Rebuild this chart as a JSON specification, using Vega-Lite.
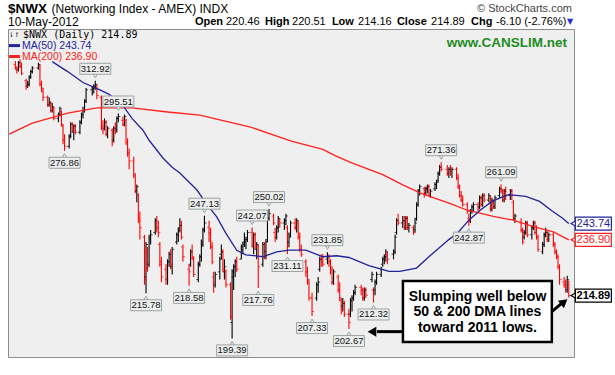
{
"$schema":"https://vega.github.io/schema/vega-lite/v6.json",
"width":566,"height":328,
"autosize":"none",
"padding":{"left":8,"top":29,"right":41,"bottom":18},
"background":"white",
"config":{"view":{"fill":"#efefef","stroke":"#8c8c8c","strokeWidth":1},"font":"Liberation Sans"},
"datasets":{
"px":[
{"d":"2011-05-16","o":322,"h":324,"l":319,"c":320},
{"d":"2011-05-17","o":320,"h":321,"l":317,"c":319},
{"d":"2011-05-18","o":319,"h":324,"l":318,"c":323},
{"d":"2011-05-19","o":323,"h":325,"l":320,"c":321},
{"d":"2011-05-20","o":321,"h":323,"l":316,"c":317},
{"d":"2011-05-23","o":313,"h":314,"l":308,"c":310},
{"d":"2011-05-24","o":310,"h":313,"l":309,"c":311},
{"d":"2011-05-25","o":311,"h":316,"l":310,"c":315},
{"d":"2011-05-26","o":315,"h":319,"l":314,"c":318},
{"d":"2011-05-27","o":318,"h":321,"l":317,"c":320},
{"d":"2011-05-31","o":320,"h":323,"l":319,"c":322},
{"d":"2011-06-01","o":321,"h":322,"l":310,"c":311},
{"d":"2011-06-02","o":311,"h":313,"l":307,"c":309},
{"d":"2011-06-03","o":307,"h":309,"l":302,"c":304},
{"d":"2011-06-06","o":304,"h":305,"l":299,"c":300},
{"d":"2011-06-07","o":300,"h":304,"l":299,"c":301},
{"d":"2011-06-08","o":301,"h":302,"l":296,"c":297},
{"d":"2011-06-09","o":297,"h":301,"l":296,"c":299},
{"d":"2011-06-10","o":298,"h":299,"l":292,"c":293},
{"d":"2011-06-13","o":293,"h":296,"l":291,"c":295},
{"d":"2011-06-14","o":295,"h":299,"l":294,"c":298},
{"d":"2011-06-15","o":297,"h":297,"l":289,"c":290},
{"d":"2011-06-16","o":289,"h":290,"l":280,"c":282},
{"d":"2011-06-17","o":282,"h":285,"l":276.86,"c":279},
{"d":"2011-06-20","o":279,"h":285,"l":278,"c":284},
{"d":"2011-06-21","o":284,"h":291,"l":283,"c":290},
{"d":"2011-06-22","o":290,"h":291,"l":286,"c":287},
{"d":"2011-06-23","o":286,"h":290,"l":282,"c":289},
{"d":"2011-06-24","o":289,"h":290,"l":285,"c":286},
{"d":"2011-06-27","o":286,"h":292,"l":285,"c":291},
{"d":"2011-06-28","o":291,"h":296,"l":290,"c":295},
{"d":"2011-06-29","o":295,"h":299,"l":293,"c":297},
{"d":"2011-06-30","o":297,"h":303,"l":296,"c":302},
{"d":"2011-07-01","o":302,"h":309,"l":301,"c":308},
{"d":"2011-07-05","o":308,"h":310,"l":305,"c":309},
{"d":"2011-07-06","o":309,"h":311,"l":306,"c":310},
{"d":"2011-07-07","o":310,"h":312.92,"l":308,"c":311},
{"d":"2011-07-08","o":310,"h":311,"l":303,"c":305},
{"d":"2011-07-11","o":304,"h":305,"l":287,"c":289},
{"d":"2011-07-12","o":289,"h":292,"l":285,"c":287},
{"d":"2011-07-13","o":288,"h":293,"l":287,"c":291},
{"d":"2011-07-14","o":291,"h":292,"l":284,"c":285},
{"d":"2011-07-15","o":285,"h":289,"l":283,"c":288},
{"d":"2011-07-18","o":287,"h":288,"l":279,"c":281},
{"d":"2011-07-19","o":282,"h":289,"l":281,"c":288},
{"d":"2011-07-20","o":288,"h":291,"l":285,"c":286},
{"d":"2011-07-21","o":287,"h":294,"l":286,"c":293},
{"d":"2011-07-22","o":293,"h":295.51,"l":291,"c":294},
{"d":"2011-07-25","o":292,"h":294,"l":289,"c":290},
{"d":"2011-07-26","o":290,"h":295,"l":289,"c":294},
{"d":"2011-07-27","o":292,"h":293,"l":280,"c":281},
{"d":"2011-07-28","o":280,"h":283,"l":274,"c":276},
{"d":"2011-07-29","o":275,"h":278,"l":268,"c":272},
{"d":"2011-08-01","o":272,"h":274,"l":264,"c":266},
{"d":"2011-08-02","o":265,"h":266,"l":257,"c":258},
{"d":"2011-08-03","o":258,"h":261,"l":253,"c":260},
{"d":"2011-08-04","o":256,"h":257,"l":244,"c":245},
{"d":"2011-08-05","o":246,"h":249,"l":237,"c":242},
{"d":"2011-08-08","o":238,"h":239,"l":219,"c":221},
{"d":"2011-08-09","o":222,"h":236,"l":215.78,"c":235},
{"d":"2011-08-10","o":232,"h":234,"l":224,"c":226},
{"d":"2011-08-11","o":227,"h":239,"l":226,"c":237},
{"d":"2011-08-12","o":238,"h":241,"l":235,"c":239},
{"d":"2011-08-15","o":240,"h":246,"l":239,"c":245},
{"d":"2011-08-16","o":244,"h":247,"l":240,"c":242},
{"d":"2011-08-17","o":242,"h":245,"l":238,"c":240},
{"d":"2011-08-18","o":235,"h":236,"l":226,"c":228},
{"d":"2011-08-19","o":227,"h":230,"l":220,"c":222},
{"d":"2011-08-22","o":225,"h":227,"l":219,"c":221},
{"d":"2011-08-23","o":221,"h":229,"l":219,"c":228},
{"d":"2011-08-24","o":228,"h":232,"l":226,"c":231},
{"d":"2011-08-25","o":231,"h":233,"l":225,"c":227},
{"d":"2011-08-26","o":226,"h":234,"l":223,"c":233},
{"d":"2011-08-29","o":236,"h":240,"l":235,"c":239},
{"d":"2011-08-30","o":239,"h":242,"l":236,"c":241},
{"d":"2011-08-31","o":242,"h":246,"l":240,"c":243},
{"d":"2011-09-01","o":243,"h":245,"l":237,"c":238},
{"d":"2011-09-02","o":234,"h":235,"l":228,"c":230},
{"d":"2011-09-06","o":225,"h":227,"l":218.58,"c":224},
{"d":"2011-09-07","o":227,"h":233,"l":226,"c":232},
{"d":"2011-09-08","o":232,"h":235,"l":229,"c":230},
{"d":"2011-09-09","o":229,"h":230,"l":222,"c":223},
{"d":"2011-09-12","o":221,"h":228,"l":220,"c":227},
{"d":"2011-09-13","o":227,"h":231,"l":226,"c":230},
{"d":"2011-09-14","o":230,"h":237,"l":228,"c":235},
{"d":"2011-09-15","o":236,"h":242,"l":234,"c":241},
{"d":"2011-09-16","o":241,"h":247.13,"l":240,"c":244},
{"d":"2011-09-19","o":242,"h":245,"l":236,"c":239},
{"d":"2011-09-20","o":240,"h":242,"l":233,"c":234},
{"d":"2011-09-21","o":234,"h":236,"l":227,"c":228},
{"d":"2011-09-22","o":222,"h":224,"l":216,"c":220},
{"d":"2011-09-23","o":219,"h":224,"l":218,"c":223},
{"d":"2011-09-26","o":224,"h":230,"l":221,"c":229},
{"d":"2011-09-27","o":231,"h":235,"l":229,"c":232},
{"d":"2011-09-28","o":232,"h":233,"l":224,"c":225},
{"d":"2011-09-29","o":224,"h":229,"l":221,"c":226},
{"d":"2011-09-30","o":224,"h":225,"l":218,"c":219},
{"d":"2011-10-03","o":219,"h":220,"l":206,"c":207},
{"d":"2011-10-04","o":205,"h":225,"l":199.39,"c":224},
{"d":"2011-10-05","o":222,"h":227,"l":217,"c":226},
{"d":"2011-10-06","o":226,"h":229,"l":222,"c":228},
{"d":"2011-10-07","o":228,"h":230,"l":224,"c":225},
{"d":"2011-10-10","o":229,"h":235,"l":229,"c":234},
{"d":"2011-10-11","o":233,"h":236,"l":231,"c":235},
{"d":"2011-10-12","o":236,"h":240,"l":234,"c":237},
{"d":"2011-10-13","o":236,"h":238,"l":233,"c":237},
{"d":"2011-10-14","o":238,"h":241,"l":236,"c":240},
{"d":"2011-10-17","o":240,"h":242.07,"l":234,"c":235},
{"d":"2011-10-18","o":234,"h":240,"l":231,"c":239},
{"d":"2011-10-19","o":239,"h":240,"l":233,"c":234},
{"d":"2011-10-20","o":233,"h":236,"l":229,"c":235},
{"d":"2011-10-21","o":234,"h":235,"l":217.76,"c":226},
{"d":"2011-10-24","o":227,"h":236,"l":226,"c":235},
{"d":"2011-10-25","o":235,"h":236,"l":229,"c":230},
{"d":"2011-10-26","o":232,"h":237,"l":229,"c":236},
{"d":"2011-10-27","o":237,"h":247,"l":236,"c":246},
{"d":"2011-10-28","o":246,"h":250.02,"l":245,"c":248},
{"d":"2011-10-31","o":247,"h":248,"l":243,"c":244},
{"d":"2011-11-01","o":240,"h":242,"l":236,"c":238},
{"d":"2011-11-02","o":238,"h":243,"l":237,"c":242},
{"d":"2011-11-03","o":242,"h":247,"l":240,"c":246},
{"d":"2011-11-04","o":245,"h":246,"l":242,"c":244},
{"d":"2011-11-07","o":244,"h":246,"l":241,"c":245},
{"d":"2011-11-08","o":245,"h":248,"l":243,"c":247},
{"d":"2011-11-09","o":242,"h":243,"l":231.11,"c":234},
{"d":"2011-11-10","o":236,"h":240,"l":234,"c":238},
{"d":"2011-11-11","o":239,"h":245,"l":238,"c":244},
{"d":"2011-11-14","o":244,"h":246,"l":241,"c":242},
{"d":"2011-11-15","o":242,"h":246,"l":240,"c":245},
{"d":"2011-11-16","o":244,"h":245,"l":237,"c":238},
{"d":"2011-11-17","o":238,"h":240,"l":232,"c":233},
{"d":"2011-11-18","o":233,"h":235,"l":230,"c":231},
{"d":"2011-11-21","o":228,"h":229,"l":222,"c":224},
{"d":"2011-11-22","o":224,"h":226,"l":219,"c":221},
{"d":"2011-11-23","o":220,"h":221,"l":213,"c":214},
{"d":"2011-11-25","o":214,"h":216,"l":207.33,"c":209},
{"d":"2011-11-28","o":214,"h":220,"l":213,"c":219},
{"d":"2011-11-29","o":219,"h":222,"l":216,"c":220},
{"d":"2011-11-30","o":225,"h":230,"l":224,"c":229},
{"d":"2011-12-01","o":229,"h":231,"l":226,"c":228},
{"d":"2011-12-02","o":229,"h":231,"l":226,"c":227},
{"d":"2011-12-05","o":229,"h":231.85,"l":227,"c":230},
{"d":"2011-12-06","o":230,"h":231,"l":226,"c":228},
{"d":"2011-12-07","o":228,"h":229,"l":223,"c":226},
{"d":"2011-12-08","o":225,"h":226,"l":219,"c":220},
{"d":"2011-12-09","o":220,"h":225,"l":219,"c":224},
{"d":"2011-12-12","o":222,"h":223,"l":216,"c":217},
{"d":"2011-12-13","o":217,"h":220,"l":213,"c":214},
{"d":"2011-12-14","o":213,"h":214,"l":208,"c":210},
{"d":"2011-12-15","o":211,"h":214,"l":209,"c":212},
{"d":"2011-12-16","o":212,"h":213,"l":207,"c":208},
{"d":"2011-12-19","o":208,"h":210,"l":202.67,"c":205},
{"d":"2011-12-20","o":208,"h":214,"l":207,"c":213},
{"d":"2011-12-21","o":213,"h":215,"l":209,"c":214},
{"d":"2011-12-22","o":214,"h":217,"l":213,"c":216},
{"d":"2011-12-23","o":216,"h":219,"l":215,"c":218},
{"d":"2011-12-27","o":218,"h":219,"l":215,"c":217},
{"d":"2011-12-28","o":217,"h":218,"l":213,"c":214},
{"d":"2011-12-29","o":214,"h":218,"l":213,"c":217},
{"d":"2011-12-30","o":217,"h":218,"l":214,"c":215},
{"d":"2012-01-03","o":221,"h":224,"l":220,"c":223},
{"d":"2012-01-04","o":217,"h":218,"l":212.32,"c":216},
{"d":"2012-01-05","o":217,"h":221,"l":215,"c":220},
{"d":"2012-01-06","o":220,"h":224,"l":219,"c":223},
{"d":"2012-01-09","o":223,"h":226,"l":222,"c":225},
{"d":"2012-01-10","o":227,"h":230,"l":226,"c":229},
{"d":"2012-01-11","o":229,"h":231,"l":227,"c":230},
{"d":"2012-01-12","o":230,"h":233,"l":228,"c":232},
{"d":"2012-01-13","o":231,"h":232,"l":227,"c":229},
{"d":"2012-01-17","o":231,"h":233,"l":229,"c":232},
{"d":"2012-01-18","o":232,"h":239,"l":231,"c":238},
{"d":"2012-01-19","o":240,"h":246,"l":239,"c":245},
{"d":"2012-01-20","o":245,"h":248,"l":243,"c":244},
{"d":"2012-01-23","o":244,"h":247,"l":242,"c":245},
{"d":"2012-01-24","o":245,"h":247,"l":241,"c":242},
{"d":"2012-01-25","o":242,"h":247,"l":241,"c":246},
{"d":"2012-01-26","o":246,"h":247,"l":241,"c":242},
{"d":"2012-01-27","o":242,"h":244,"l":240,"c":243},
{"d":"2012-01-30","o":242,"h":243,"l":239,"c":240},
{"d":"2012-01-31","o":241,"h":246,"l":240,"c":244},
{"d":"2012-02-01","o":246,"h":253,"l":245,"c":252},
{"d":"2012-02-02","o":252,"h":259,"l":251,"c":258},
{"d":"2012-02-03","o":258,"h":261,"l":256,"c":260},
{"d":"2012-02-06","o":259,"h":260,"l":255,"c":257},
{"d":"2012-02-07","o":257,"h":260,"l":256,"c":259},
{"d":"2012-02-08","o":259,"h":261,"l":257,"c":260},
{"d":"2012-02-09","o":260,"h":261,"l":256,"c":257},
{"d":"2012-02-10","o":256,"h":259,"l":255,"c":258},
{"d":"2012-02-13","o":259,"h":262,"l":258,"c":261},
{"d":"2012-02-14","o":261,"h":263,"l":259,"c":262},
{"d":"2012-02-15","o":263,"h":267,"l":262,"c":266},
{"d":"2012-02-16","o":266,"h":270,"l":265,"c":269},
{"d":"2012-02-17","o":269,"h":271.36,"l":267,"c":268},
{"d":"2012-02-21","o":268,"h":270,"l":265,"c":266},
{"d":"2012-02-22","o":266,"h":269,"l":264,"c":268},
{"d":"2012-02-23","o":268,"h":270,"l":265,"c":267},
{"d":"2012-02-24","o":267,"h":269,"l":264,"c":268},
{"d":"2012-02-27","o":268,"h":269,"l":263,"c":264},
{"d":"2012-02-28","o":264,"h":266,"l":259,"c":260},
{"d":"2012-02-29","o":260,"h":261,"l":255,"c":256},
{"d":"2012-03-01","o":256,"h":258,"l":253,"c":254},
{"d":"2012-03-02","o":254,"h":256,"l":251,"c":252},
{"d":"2012-03-05","o":252,"h":253,"l":248,"c":249},
{"d":"2012-03-06","o":246,"h":248,"l":242.87,"c":245},
{"d":"2012-03-07","o":245,"h":250,"l":244,"c":249},
{"d":"2012-03-08","o":249,"h":252,"l":248,"c":251},
{"d":"2012-03-09","o":251,"h":253,"l":249,"c":252},
{"d":"2012-03-12","o":252,"h":253,"l":249,"c":250},
{"d":"2012-03-13","o":251,"h":256,"l":250,"c":255},
{"d":"2012-03-14","o":255,"h":256,"l":251,"c":252},
{"d":"2012-03-15","o":252,"h":257,"l":251,"c":256},
{"d":"2012-03-16","o":256,"h":257,"l":253,"c":254},
{"d":"2012-03-19","o":254,"h":257,"l":253,"c":256},
{"d":"2012-03-20","o":255,"h":256,"l":249,"c":250},
{"d":"2012-03-21","o":250,"h":255,"l":249,"c":254},
{"d":"2012-03-22","o":253,"h":254,"l":250,"c":251},
{"d":"2012-03-23","o":251,"h":256,"l":250,"c":255},
{"d":"2012-03-26","o":256,"h":260,"l":255,"c":259},
{"d":"2012-03-27","o":259,"h":261.09,"l":257,"c":258},
{"d":"2012-03-28","o":258,"h":259,"l":253,"c":254},
{"d":"2012-03-29","o":254,"h":259,"l":253,"c":258},
{"d":"2012-03-30","o":258,"h":260,"l":254,"c":256},
{"d":"2012-04-02","o":256,"h":259,"l":254,"c":258},
{"d":"2012-04-03","o":258,"h":259,"l":254,"c":256},
{"d":"2012-04-04","o":253,"h":254,"l":245,"c":246},
{"d":"2012-04-05","o":246,"h":248,"l":244,"c":247},
{"d":"2012-04-09","o":244,"h":246,"l":240,"c":241},
{"d":"2012-04-10","o":241,"h":242,"l":235,"c":236},
{"d":"2012-04-11","o":238,"h":241,"l":237,"c":240},
{"d":"2012-04-12","o":240,"h":245,"l":239,"c":244},
{"d":"2012-04-13","o":244,"h":245,"l":238,"c":239},
{"d":"2012-04-16","o":239,"h":243,"l":237,"c":242},
{"d":"2012-04-17","o":242,"h":245,"l":241,"c":244},
{"d":"2012-04-18","o":244,"h":245,"l":239,"c":240},
{"d":"2012-04-19","o":240,"h":243,"l":237,"c":238},
{"d":"2012-04-20","o":238,"h":239,"l":232,"c":233},
{"d":"2012-04-23","o":232,"h":236,"l":231,"c":235},
{"d":"2012-04-24","o":235,"h":240,"l":234,"c":239},
{"d":"2012-04-25","o":239,"h":242,"l":238,"c":240},
{"d":"2012-04-26","o":240,"h":241,"l":236,"c":237},
{"d":"2012-04-27","o":237,"h":240,"l":236,"c":239},
{"d":"2012-04-30","o":239,"h":240,"l":234,"c":235},
{"d":"2012-05-01","o":235,"h":236,"l":231,"c":232},
{"d":"2012-05-02","o":232,"h":233,"l":229,"c":230},
{"d":"2012-05-03","o":230,"h":231,"l":225,"c":226},
{"d":"2012-05-04","o":226,"h":227,"l":219,"c":221},
{"d":"2012-05-07","o":220,"h":222,"l":218,"c":219},
{"d":"2012-05-08","o":219,"h":221,"l":216,"c":218},
{"d":"2012-05-09","o":217,"h":222.5,"l":216,"c":220.99},
{"d":"2012-05-10","o":220.46,"h":220.51,"l":214.16,"c":214.89}
],
"ma50":[
{"d":"2011-06-09","v":323.6},{"d":"2011-06-19","v":318},{"d":"2011-06-29","v":312},{"d":"2011-07-10","v":308},
{"d":"2011-07-16","v":305.6},{"d":"2011-07-25","v":299.6},{"d":"2011-07-31","v":292.9},{"d":"2011-08-07","v":287},
{"d":"2011-08-11","v":282},{"d":"2011-08-20","v":273.4},{"d":"2011-08-26","v":269},{"d":"2011-08-31","v":266.3},
{"d":"2011-09-11","v":258.6},{"d":"2011-09-17","v":252.6},{"d":"2011-09-24","v":246.6},{"d":"2011-09-30","v":239.6},
{"d":"2011-10-07","v":232.6},{"d":"2011-10-13","v":230.8},{"d":"2011-10-24","v":230},{"d":"2011-11-02","v":232},
{"d":"2011-11-10","v":232.7},{"d":"2011-11-21","v":232.7},{"d":"2011-12-02","v":230},{"d":"2011-12-11","v":230.4},
{"d":"2011-12-19","v":229.7},{"d":"2012-01-01","v":226.5},{"d":"2012-01-14","v":224.2},{"d":"2012-01-21","v":224.2},
{"d":"2012-02-01","v":225.5},{"d":"2012-02-09","v":230},{"d":"2012-02-22","v":237},{"d":"2012-02-28","v":240},
{"d":"2012-03-06","v":245.2},{"d":"2012-03-13","v":249.3},{"d":"2012-03-21","v":253.4},{"d":"2012-03-28","v":255.4},
{"d":"2012-04-01","v":256.4},{"d":"2012-04-12","v":255.6},{"d":"2012-04-21","v":253.4},{"d":"2012-04-29","v":249.3},
{"d":"2012-05-06","v":246},{"d":"2012-05-10","v":243.74}
],
"ma200":[
{"d":"2011-05-12","v":285},{"d":"2011-05-27","v":290.6},{"d":"2011-06-19","v":295.7},{"d":"2011-07-08","v":298.4},
{"d":"2011-07-31","v":298.4},{"d":"2011-08-23","v":296.3},{"d":"2011-09-13","v":294.7},{"d":"2011-10-16","v":288.6},
{"d":"2011-11-11","v":281.7},{"d":"2011-12-02","v":277.5},{"d":"2011-12-10","v":274.5},{"d":"2011-12-20","v":271.3},
{"d":"2012-01-10","v":265.5},{"d":"2012-01-23","v":260.8},{"d":"2012-02-04","v":257},{"d":"2012-02-23","v":252.4},
{"d":"2012-03-05","v":249.5},{"d":"2012-03-22","v":246.8},{"d":"2012-04-04","v":245.2},{"d":"2012-04-17","v":242.5},
{"d":"2012-04-30","v":240.2},{"d":"2012-05-10","v":236.9}
],
"lbl":[
{"d":"2011-06-17","v":276.86,"k":"low"},{"d":"2011-07-07","v":312.92,"k":"high"},{"d":"2011-07-22","v":295.51,"k":"high"},
{"d":"2011-08-09","v":215.78,"k":"low"},{"d":"2011-09-06","v":218.58,"k":"low"},{"d":"2011-09-16","v":247.13,"k":"high"},
{"d":"2011-10-04","v":199.39,"k":"low"},{"d":"2011-10-17","v":242.07,"k":"high"},{"d":"2011-10-21","v":217.76,"k":"low"},
{"d":"2011-10-28","v":250.02,"k":"high"},{"d":"2011-11-09","v":231.11,"k":"low"},{"d":"2011-11-25","v":207.33,"k":"low"},
{"d":"2011-12-05","v":231.85,"k":"high"},{"d":"2011-12-19","v":202.67,"k":"low"},{"d":"2012-01-04","v":212.32,"k":"low"},
{"d":"2012-02-17","v":271.36,"k":"high"},{"d":"2012-03-06","v":242.87,"k":"low"},{"d":"2012-03-27","v":261.09,"k":"high"}
],
"last":[{"s":"MA50","v":243.74},{"s":"MA200","v":236.90},{"s":"NWX","v":214.89}]
},
"layer":[
{"data":{"name":"px"},"mark":{"type":"rule","strokeWidth":1.1},
 "encoding":{
  "x":{"field":"d","type":"temporal","scale":{"domain":[{"year":2011,"month":5,"date":11,"hours":5,"utc":true},{"year":2012,"month":5,"date":13,"hours":10,"utc":true}],"nice":false},
   "axis":{"values":[{"year":2011,"month":6,"date":1,"utc":true},{"year":2011,"month":7,"date":1,"utc":true},{"year":2011,"month":8,"date":1,"utc":true},{"year":2011,"month":9,"date":1,"utc":true},{"year":2011,"month":10,"date":3,"utc":true},{"year":2011,"month":11,"date":1,"utc":true},{"year":2011,"month":12,"date":1,"utc":true},{"year":2012,"month":1,"date":3,"utc":true},{"year":2012,"month":2,"date":1,"utc":true},{"year":2012,"month":3,"date":1,"utc":true},{"year":2012,"month":4,"date":2,"utc":true},{"year":2012,"month":5,"date":1,"utc":true}],
    "labelExpr":"utcmonth(datum.value) === 0 ? '2012' : utcFormat(datum.value, '%b')",
    "labelFontWeight":{"condition":{"test":"utcmonth(datum.value) === 0","value":"bold"},"value":"normal"},
    "title":null,"grid":true,"gridColor":"#d0d0d0","domain":false,"ticks":false,"labelPadding":4,"labelFontSize":11,"labelColor":"#222","labelFlush":false,"labelOverlap":false}},
  "y":{"field":"l","type":"quantitative","scale":{"type":"log","domain":[193,342.6],"nice":false},
   "axis":{"orient":"right","values":[200,210,220,230,240,250,260,270,280,290,300,310,320,330,340],"format":"d","title":null,"grid":true,"gridColor":"#d0d0d0","domain":false,"ticks":true,"tickSize":3,"tickColor":"#777","labelPadding":1,"labelFontSize":11,"labelColor":"#222","labelFlush":false,"labelOverlap":false}},
  "y2":{"field":"h"},
  "color":{"condition":{"test":"datum.c >= datum.o","value":"#000000"},"value":"#ff0000"}}},
{"data":{"name":"px"},"mark":{"type":"tick","orient":"horizontal","size":2,"thickness":1,"xOffset":-1},
 "encoding":{"x":{"field":"d","type":"temporal","axis":null},"y":{"field":"o","type":"quantitative","axis":null},
  "color":{"condition":{"test":"datum.c >= datum.o","value":"#000000"},"value":"#ff0000"}}},
{"data":{"name":"px"},"mark":{"type":"tick","orient":"horizontal","size":2,"thickness":1,"xOffset":1},
 "encoding":{"x":{"field":"d","type":"temporal","axis":null},"y":{"field":"c","type":"quantitative","axis":null},
  "color":{"condition":{"test":"datum.c >= datum.o","value":"#000000"},"value":"#ff0000"}}},
{"data":{"name":"ma200"},"mark":{"type":"line","color":"#ff2020","strokeWidth":1.3},
 "encoding":{"x":{"field":"d","type":"temporal","axis":null},"y":{"field":"v","type":"quantitative","axis":null}}},
{"data":{"name":"ma50"},"mark":{"type":"line","color":"#23239b","strokeWidth":1.3},
 "encoding":{"x":{"field":"d","type":"temporal","axis":null},"y":{"field":"v","type":"quantitative","axis":null}}},
{"data":{"name":"lbl"},"transform":[{"filter":"datum.k === 'high'"}],"mark":{"type":"point","shape":"triangle-down","size":22,"filled":true,"fill":"#eceeee","stroke":"#9ca3a3","strokeWidth":1,"opacity":1,"yOffset":-5},
 "encoding":{"x":{"field":"d","type":"temporal","axis":null},"y":{"field":"v","type":"quantitative","axis":null}}},
{"data":{"name":"lbl"},"transform":[{"filter":"datum.k === 'low'"}],"mark":{"type":"point","shape":"triangle-up","size":22,"filled":true,"fill":"#eceeee","stroke":"#9ca3a3","strokeWidth":1,"opacity":1,"yOffset":5},
 "encoding":{"x":{"field":"d","type":"temporal","axis":null},"y":{"field":"v","type":"quantitative","axis":null}}},
{"data":{"name":"lbl"},"transform":[{"filter":"datum.k === 'high'"}],"mark":{"type":"rect","width":31,"height":11,"yOffset":-12,"fill":"#eceeee","stroke":"#9ca3a3","strokeWidth":1},
 "encoding":{"x":{"field":"d","type":"temporal","axis":null},"y":{"field":"v","type":"quantitative","axis":null}}},
{"data":{"name":"lbl"},"transform":[{"filter":"datum.k === 'low'"}],"mark":{"type":"rect","width":31,"height":11,"yOffset":12,"fill":"#eceeee","stroke":"#9ca3a3","strokeWidth":1},
 "encoding":{"x":{"field":"d","type":"temporal","axis":null},"y":{"field":"v","type":"quantitative","axis":null}}},
{"data":{"name":"lbl"},"transform":[{"filter":"datum.k === 'high'"}],"mark":{"type":"text","yOffset":-12,"fontSize":9.5,"color":"#111","baseline":"middle","align":"center"},
 "encoding":{"x":{"field":"d","type":"temporal","axis":null},"y":{"field":"v","type":"quantitative","axis":null},"text":{"field":"v","type":"quantitative","format":".2f"}}},
{"data":{"name":"lbl"},"transform":[{"filter":"datum.k === 'low'"}],"mark":{"type":"text","yOffset":12,"fontSize":9.5,"color":"#111","baseline":"middle","align":"center"},
 "encoding":{"x":{"field":"d","type":"temporal","axis":null},"y":{"field":"v","type":"quantitative","axis":null},"text":{"field":"v","type":"quantitative","format":".2f"}}},
{"data":{"name":"last"},"mark":{"type":"point","shape":"triangle-left","size":45,"filled":true,"fill":"white","strokeWidth":1.2,"opacity":1},
 "encoding":{"x":{"datum":{"year":2012,"month":5,"date":13,"hours":10,"utc":true},"type":"temporal","axis":null},"y":{"field":"v","type":"quantitative","axis":null},
  "stroke":{"condition":[{"test":"datum.s === 'MA50'","value":"#23239b"},{"test":"datum.s === 'MA200'","value":"#ff2020"}],"value":"#000000"}}},
{"data":{"name":"last"},"mark":{"type":"rect","width":36,"height":13,"fill":"white","strokeWidth":1.2},
 "encoding":{"x":{"datum":{"year":2012,"month":5,"date":26,"utc":true},"type":"temporal","axis":null},"y":{"field":"v","type":"quantitative","axis":null},
  "stroke":{"condition":[{"test":"datum.s === 'MA50'","value":"#23239b"},{"test":"datum.s === 'MA200'","value":"#ff2020"}],"value":"#000000"}}},
{"data":{"name":"last"},"transform":[{"filter":"datum.s !== 'NWX'"}],"mark":{"type":"text","fontSize":11,"baseline":"middle","align":"center"},
 "encoding":{"x":{"datum":{"year":2012,"month":5,"date":26,"utc":true},"type":"temporal","axis":null},"y":{"field":"v","type":"quantitative","axis":null},"text":{"field":"v","type":"quantitative","format":".2f"},
  "color":{"condition":[{"test":"datum.s === 'MA50'","value":"#23239b"}],"value":"#ff2020"}}},
{"data":{"name":"last"},"transform":[{"filter":"datum.s === 'NWX'"}],"mark":{"type":"text","fontSize":11,"fontWeight":"bold","baseline":"middle","align":"center","color":"#000"},
 "encoding":{"x":{"datum":{"year":2012,"month":5,"date":26,"utc":true},"type":"temporal","axis":null},"y":{"field":"v","type":"quantitative","axis":null},"text":{"field":"v","type":"quantitative","format":".2f"}}},
{"data":{"values":[{}]},"mark":{"type":"text","text":"⇂↾","font":"DejaVu Sans","fontSize":6.5,"align":"left","baseline":"middle","color":"#000"},
 "encoding":{"x":{"datum":{"year":2011,"month":5,"date":11,"hours":12,"utc":true},"type":"temporal","axis":null},"y":{"datum":339.3,"type":"quantitative","axis":null}}},
{"data":{"values":[{}]},"mark":{"type":"text","text":"$NWX (Daily) 214.89","font":"DejaVu Sans Mono","fontSize":10,"align":"left","baseline":"middle","color":"#000"},
 "encoding":{"x":{"datum":{"year":2011,"month":5,"date":21,"hours":0,"utc":true},"type":"temporal","axis":null},"y":{"datum":339.3,"type":"quantitative","axis":null}}},
{"data":{"values":[{}]},"mark":{"type":"rule","color":"#23239b","strokeWidth":3},
 "encoding":{"x":{"datum":{"year":2011,"month":5,"date":11,"hours":19,"utc":true},"type":"temporal","axis":null},"x2":{"datum":{"year":2011,"month":5,"date":19,"utc":true}},"y":{"datum":332.8,"type":"quantitative","axis":null}}},
{"data":{"values":[{}]},"mark":{"type":"text","text":"MA(50) 243.74","fontSize":10.5,"align":"left","baseline":"middle","color":"#23239b"},
 "encoding":{"x":{"datum":{"year":2011,"month":5,"date":20,"hours":7,"utc":true},"type":"temporal","axis":null},"y":{"datum":332.8,"type":"quantitative","axis":null}}},
{"data":{"values":[{}]},"mark":{"type":"rule","color":"#ff2020","strokeWidth":3},
 "encoding":{"x":{"datum":{"year":2011,"month":5,"date":11,"hours":19,"utc":true},"type":"temporal","axis":null},"x2":{"datum":{"year":2011,"month":5,"date":19,"utc":true}},"y":{"datum":326.5,"type":"quantitative","axis":null}}},
{"data":{"values":[{}]},"mark":{"type":"text","text":"MA(200) 236.90","fontSize":10.5,"align":"left","baseline":"middle","color":"#ff2020"},
 "encoding":{"x":{"datum":{"year":2011,"month":5,"date":20,"hours":7,"utc":true},"type":"temporal","axis":null},"y":{"datum":326.5,"type":"quantitative","axis":null}}},
{"data":{"values":[{}]},"mark":{"type":"text","text":"www.CANSLIM.net","fontSize":13.5,"fontWeight":"bold","align":"right","baseline":"middle","color":"#1f8c1f"},
 "encoding":{"x":{"datum":{"year":2012,"month":5,"date":8,"hours":19,"utc":true},"type":"temporal","axis":null},"y":{"datum":334.5,"type":"quantitative","axis":null}}},
{"data":{"values":[{}]},"mark":{"type":"text","text":"$NWX","fontSize":13.5,"fontWeight":"bold","align":"left","baseline":"middle","color":"#000"},
 "encoding":{"x":{"datum":{"year":2011,"month":5,"date":11,"hours":5,"utc":true},"type":"temporal","axis":null},"y":{"datum":354.7,"type":"quantitative","axis":null}}},
{"data":{"values":[{}]},"mark":{"type":"text","text":"(Networking Index - AMEX) INDX","fontSize":12,"align":"left","baseline":"middle","color":"#000"},
 "encoding":{"x":{"datum":{"year":2011,"month":6,"date":8,"hours":12,"utc":true},"type":"temporal","axis":null},"y":{"datum":354.7,"type":"quantitative","axis":null}}},
{"data":{"values":[{}]},"mark":{"type":"text","text":"© StockCharts.com","fontSize":11,"align":"right","baseline":"middle","color":"#444"},
 "encoding":{"x":{"datum":{"year":2012,"month":5,"date":12,"hours":2,"utc":true},"type":"temporal","axis":null},"y":{"datum":354.7,"type":"quantitative","axis":null}}},
{"data":{"values":[{}]},"mark":{"type":"text","text":"10-May-2012","fontSize":12,"align":"left","baseline":"middle","color":"#000"},
 "encoding":{"x":{"datum":{"year":2011,"month":5,"date":11,"hours":5,"utc":true},"type":"temporal","axis":null},"y":{"datum":346.8,"type":"quantitative","axis":null}}},
{"data":{"values":[{}]},"mark":{"type":"text","text":"Open","fontSize":11,"fontWeight":"bold","align":"left","baseline":"middle","color":"#000"},
 "encoding":{"x":{"datum":{"year":2011,"month":9,"date":9,"hours":19,"utc":true},"type":"temporal","axis":null},"y":{"datum":346.8,"type":"quantitative","axis":null}}},
{"data":{"values":[{}]},"mark":{"type":"text","text":"220.46","fontSize":11,"align":"left","baseline":"middle","color":"#000"},
 "encoding":{"x":{"datum":{"year":2011,"month":9,"date":30,"hours":0,"utc":true},"type":"temporal","axis":null},"y":{"datum":346.8,"type":"quantitative","axis":null}}},
{"data":{"values":[{}]},"mark":{"type":"text","text":"High","fontSize":11,"fontWeight":"bold","align":"left","baseline":"middle","color":"#000"},
 "encoding":{"x":{"datum":{"year":2011,"month":10,"date":25,"hours":10,"utc":true},"type":"temporal","axis":null},"y":{"datum":346.8,"type":"quantitative","axis":null}}},
{"data":{"values":[{}]},"mark":{"type":"text","text":"220.51","fontSize":11,"align":"left","baseline":"middle","color":"#000"},
 "encoding":{"x":{"datum":{"year":2011,"month":11,"date":12,"hours":0,"utc":true},"type":"temporal","axis":null},"y":{"datum":346.8,"type":"quantitative","axis":null}}},
{"data":{"values":[{}]},"mark":{"type":"text","text":"Low","fontSize":11,"fontWeight":"bold","align":"left","baseline":"middle","color":"#000"},
 "encoding":{"x":{"datum":{"year":2011,"month":12,"date":7,"hours":22,"utc":true},"type":"temporal","axis":null},"y":{"datum":346.8,"type":"quantitative","axis":null}}},
{"data":{"values":[{}]},"mark":{"type":"text","text":"214.16","fontSize":11,"align":"left","baseline":"middle","color":"#000"},
 "encoding":{"x":{"datum":{"year":2011,"month":12,"date":24,"hours":22,"utc":true},"type":"temporal","axis":null},"y":{"datum":346.8,"type":"quantitative","axis":null}}},
{"data":{"values":[{}]},"mark":{"type":"text","text":"Close","fontSize":11,"fontWeight":"bold","align":"left","baseline":"middle","color":"#000"},
 "encoding":{"x":{"datum":{"year":2012,"month":1,"date":19,"hours":5,"utc":true},"type":"temporal","axis":null},"y":{"datum":346.8,"type":"quantitative","axis":null}}},
{"data":{"values":[{}]},"mark":{"type":"text","text":"214.89","fontSize":11,"align":"left","baseline":"middle","color":"#000"},
 "encoding":{"x":{"datum":{"year":2012,"month":2,"date":10,"hours":10,"utc":true},"type":"temporal","axis":null},"y":{"datum":346.8,"type":"quantitative","axis":null}}},
{"data":{"values":[{}]},"mark":{"type":"text","text":"Chg","fontSize":11,"fontWeight":"bold","align":"left","baseline":"middle","color":"#000"},
 "encoding":{"x":{"datum":{"year":2012,"month":3,"date":7,"hours":10,"utc":true},"type":"temporal","axis":null},"y":{"datum":346.8,"type":"quantitative","axis":null}}},
{"data":{"values":[{}]},"mark":{"type":"text","text":"-6.10 (-2.76%)","fontSize":11,"align":"left","baseline":"middle","color":"#000"},
 "encoding":{"x":{"datum":{"year":2012,"month":3,"date":23,"hours":17,"utc":true},"type":"temporal","axis":null},"y":{"datum":346.8,"type":"quantitative","axis":null}}},
{"data":{"values":[{}]},"mark":{"type":"text","text":"▼","font":"DejaVu Sans","fontSize":8,"align":"left","baseline":"middle","color":"#2030d0"},
 "encoding":{"x":{"datum":{"year":2012,"month":5,"date":8,"hours":22,"utc":true},"type":"temporal","axis":null},"y":{"datum":346.8,"type":"quantitative","axis":null}}},
{"data":{"values":[{}]},"mark":{"type":"rect","fill":"white","stroke":"#000","strokeWidth":2.5},
 "encoding":{"x":{"datum":{"year":2012,"month":1,"date":23,"hours":3,"utc":true},"type":"temporal","axis":null},"x2":{"datum":{"year":2012,"month":4,"date":29,"utc":true}},
  "y":{"datum":198.15,"type":"quantitative","axis":null},"y2":{"datum":220.46}}},
{"data":{"values":[{}]},"mark":{"type":"text","text":"Slumping well below","fontSize":14,"fontWeight":"bold","align":"center","baseline":"middle","color":"#000"},
 "encoding":{"x":{"datum":{"year":2012,"month":3,"date":11,"hours":15,"utc":true},"type":"temporal","axis":null},"y":{"datum":214.5,"type":"quantitative","axis":null}}},
{"data":{"values":[{}]},"mark":{"type":"text","text":"50 & 200 DMA lines","fontSize":14,"fontWeight":"bold","align":"center","baseline":"middle","color":"#000"},
 "encoding":{"x":{"datum":{"year":2012,"month":3,"date":11,"hours":15,"utc":true},"type":"temporal","axis":null},"y":{"datum":208.7,"type":"quantitative","axis":null}}},
{"data":{"values":[{}]},"mark":{"type":"text","text":"toward 2011 lows.","fontSize":14,"fontWeight":"bold","align":"center","baseline":"middle","color":"#000"},
 "encoding":{"x":{"datum":{"year":2012,"month":3,"date":11,"hours":15,"utc":true},"type":"temporal","axis":null},"y":{"datum":203.2,"type":"quantitative","axis":null}}},
{"data":{"values":[{}]},"mark":{"type":"rule","color":"#000","strokeWidth":3},
 "encoding":{"x":{"datum":{"year":2012,"month":1,"date":6,"hours":5,"utc":true},"type":"temporal","axis":null},"x2":{"datum":{"year":2012,"month":1,"date":23,"hours":3,"utc":true}},"y":{"datum":201.76,"type":"quantitative","axis":null}}},
{"data":{"values":[{}]},"mark":{"type":"point","shape":"triangle-left","size":100,"filled":true,"color":"#000","opacity":1},
 "encoding":{"x":{"datum":{"year":2012,"month":1,"date":3,"utc":true},"type":"temporal","axis":null},"y":{"datum":201.76,"type":"quantitative","axis":null}}},
{"data":{"values":[{}]},"mark":{"type":"rule","color":"#000","strokeWidth":3},
 "encoding":{"x":{"datum":{"year":2012,"month":4,"date":29,"utc":true},"type":"temporal","axis":null},"x2":{"datum":{"year":2012,"month":5,"date":5,"utc":true}},"y":{"datum":208.94,"type":"quantitative","axis":null},"y2":{"datum":211.77}}},
{"data":{"values":[{}]},"mark":{"type":"point","shape":"triangle-up","size":90,"angle":51,"filled":true,"color":"#000","opacity":1},
 "encoding":{"x":{"datum":{"year":2012,"month":5,"date":7,"utc":true},"type":"temporal","axis":null},"y":{"datum":212.51,"type":"quantitative","axis":null}}}
]
}
